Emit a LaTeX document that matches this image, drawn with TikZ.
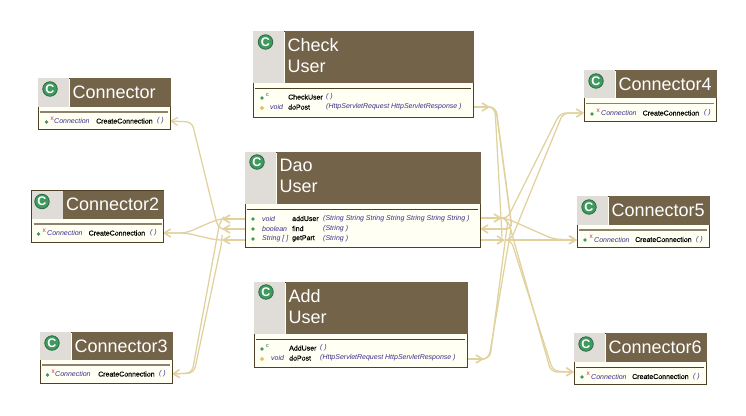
\documentclass[tikz,border=0pt]{standalone}
\usepackage{fontspec}
\setmainfont{Liberation Sans}
\newfontfamily\rownamefont[FakeBold=0.4]{Liberation Sans}
\usepackage{xcolor}
\usetikzlibrary{arrows.meta,shapes.geometric}
\definecolor{headbrown}{HTML}{736349}
\definecolor{boxedge}{HTML}{4F4124}
\definecolor{bodycream}{HTML}{FFFFF3}
\definecolor{cellgray}{HTML}{E0DDD9}
\definecolor{flowtan}{HTML}{E1D19C}
\definecolor{icongreen}{HTML}{3F9A5F}
\definecolor{typeblue}{HTML}{3A2F8C}
\definecolor{markred}{HTML}{C8304F}
\definecolor{markyellow}{HTML}{E8BE5A}
\definecolor{sepgray}{HTML}{8E826E}
\tikzset{
  classbox/.style={rectangle, draw=boxedge, fill=bodycream, line width=0.9pt, anchor=north west, inner sep=0pt, outer sep=0pt},
  connbox/.style={classbox, minimum width=132pt, minimum height=51.5pt},
  classcell/.style={rectangle, fill=cellgray, anchor=north west, inner sep=0pt, minimum width=31pt},
  classhead/.style={rectangle, fill=headbrown, anchor=north west, inner sep=0pt},
  classtitle/.style={text=white, anchor=west, align=left, inner sep=0pt, font=\fontsize{18}{21}\selectfont},
  classicon/.style={circle, draw=icongreen!70!black, line width=0.8pt, fill=icongreen, minimum size=14.5pt, inner sep=0pt, text=white, font=\bfseries\fontsize{12.5}{12.5}\selectfont},
  pubdot/.style={circle, fill=icongreen, minimum size=3.8pt, inner sep=0pt},
  protdot/.style={diamond, fill=markyellow, minimum size=4.6pt, inner sep=0pt},
  rowtype/.style={anchor=west, inner sep=0pt, text=typeblue, font=\itshape\fontsize{7}{8}\selectfont},
  rowname/.style={anchor=west, inner sep=0pt, text=black, font=\rownamefont\fontsize{7}{8}\selectfont},
  rowmark/.style={anchor=west, inner sep=0pt, text=markred, font=\fontsize{6.5}{6.5}\selectfont},
  ctormark/.style={anchor=west, inner sep=0pt, text=icongreen!60!black, font=\fontsize{5.5}{5.5}\selectfont},
  sepline/.style={draw=sepgray, line width=1.3pt},
  darksep/.style={draw=boxedge, line width=0.8pt},
  flow/.style={draw=flowtan, line width=1.25pt, rounded corners=6pt},
  flowhead/.style={flow, -{Straight Barb[length=6.5pt,width=8pt]}},
  flowtip/.style={flowhead, line width=1.6pt}
}
\begin{document}
\begin{tikzpicture}[x=1pt, y=-1pt]
\useasboundingbox (0,0) rectangle (746,415);

% connectors on the left
\coordinate (daoaddw) at (245,219);
\coordinate (daofindw) at (245,229);
\coordinate (daopartw) at (245,240);
\coordinate (addtipw) at (222,219);
\coordinate (findtipw) at (222,229);
\coordinate (parttipw) at (222,240);
\coordinate (connone) at (170,121);
\coordinate (conntwo) at (163,233);
\coordinate (connthree) at (172,374);
\draw[flowtip] (daoaddw) -- (addtipw);
\draw[flowtip] (daofindw) -- (findtipw);
\draw[flowtip] (daopartw) -- (parttipw);
\draw[flowhead] (findtipw) -- (218,228) -- (192,122) -- (connone);
\draw[flowhead] (addtipw) -- (216,220) -- (186,233) -- (conntwo);
\draw[flowhead] (parttipw) -- (216,240) -- (186,233) -- (conntwo);
\draw[flowhead] (addtipw) -- (220,221) -- (192,373) -- (connthree);
\draw[flowhead] (parttipw) -- (222,241) -- (194,373) -- (connthree);

% connectors on the right
\coordinate (checkpost) at (473,107);
\coordinate (checktip) at (490,107);
\coordinate (addpost) at (467,359);
\coordinate (addtip) at (484,359);
\coordinate (daoadde) at (480,218);
\coordinate (daofinde) at (480,229);
\coordinate (daoparte) at (480,240);
\coordinate (addtipe) at (502,218);
\coordinate (parttipe) at (505,240);
\coordinate (connfour) at (584,113);
\coordinate (connfive) at (577,240);
\coordinate (connsix) at (574,372);
\draw[flowtip] (checkpost) -- (checktip);
\draw[flowtip] (addpost) -- (addtip);
\draw[flowtip] (daoadde) -- (addtipe);
\draw[flowtip] (daoparte) -- (parttipe);
\draw[flow] (checktip) -- (495,108) -- (502,237);
\draw[flowtip] (checktip) -- (496,108) -- (512,229) -- (daofinde);
\draw[flow] (addtip) -- (489,358) -- (511,229);
\draw[flow] (addtip) -- (490,358) -- (508,219) -- (addtipe);
\draw[flowhead] (addtipe) -- (507,219) -- (560,113) -- (connfour);
\draw[flowhead] (parttipe) -- (511,240) -- (563,113) -- (connfour);
\draw[flowhead] (addtipe) -- (508,219) -- (553,239) -- (connfive);
\draw[flowtip] (parttipe) -- (connfive);
\draw[flowhead] (addtipe) -- (508,220) -- (551,372) -- (connsix);
\draw[flowhead] (parttipe) -- (511,240) -- (553,371) -- (connsix);

% check user
\node (check) [classbox, minimum width=220pt, minimum height=86pt] at (253,31) {};
\node (checkcell) [classcell, minimum height=52pt] at (check.north west) {};
\node (checkhead) [classhead, minimum width=189pt, minimum height=52pt] at (checkcell.north east) {};
\node (checktitle) [classtitle, yshift=2pt, xshift=3pt] at (checkhead.west) {Check\\User};
\node (checkicon) [classicon] at (265.5,42) {C};
\draw[darksep] (255,88) -- (471,88);
\node (checkdot1) [pubdot] at (262,98) {};
\node (checkmark1) [ctormark] at (266,95) {c};
\node (checkname1) [rowname] at (288,97) {CheckUser};
\node (checkargs1) [rowtype] at (326,97) {( )};
\node (checkdot2) [protdot] at (262,108) {};
\node (checktype2) [rowtype] at (270,107) {void};
\node (checkname2) [rowname] at (288,107) {doPost};
\node (checkargs2) [rowtype] at (326,107) {(HttpServletRequest HttpServletResponse )};

% dao user
\node (dao) [classbox, minimum width=235pt, minimum height=95pt] at (245,152) {};
\node (daocell) [classcell, minimum height=52pt] at (dao.north west) {};
\node (daohead) [classhead, minimum width=204pt, minimum height=52pt] at (daocell.north east) {};
\node (daotitle) [classtitle, yshift=2pt, xshift=3pt] at (daohead.west) {Dao\\User};
\node (daoicon) [classicon] at (257,162) {C};
\draw[darksep] (247,209) -- (478,209);
\node (daodot1) [pubdot] at (253,219) {};
\node (daotype1) [rowtype] at (262,218.5) {void};
\node (daoname1) [rowname] at (292,218.5) {addUser};
\node (daoargs1) [rowtype] at (323,218.5) {(String String String String String String String )};
\node (daodot2) [pubdot] at (253,229) {};
\node (daotype2) [rowtype] at (262,228.5) {boolean};
\node (daoname2) [rowname] at (292,228.5) {find};
\node (daoargs2) [rowtype] at (323,228.5) {(String )};
\node (daodot3) [pubdot] at (253,239) {};
\node (daotype3) [rowtype] at (262,238.5) {String [ ]};
\node (daoname3) [rowname] at (292,238.5) {getPart};
\node (daoargs3) [rowtype] at (323,238.5) {(String )};

% add user
\node (add) [classbox, minimum width=213pt, minimum height=85pt] at (254,282) {};
\node (addcell) [classcell, minimum height=52pt] at (add.north west) {};
\node (addhead) [classhead, minimum width=182pt, minimum height=52pt] at (addcell.north east) {};
\node (addtitle) [classtitle, yshift=2pt, xshift=3pt] at (addhead.west) {Add\\User};
\node (addicon) [classicon] at (266,292) {C};
\draw[darksep] (256,339) -- (465,339);
\node (adddot1) [pubdot] at (262,349) {};
\node (addmark1) [ctormark] at (266,346) {c};
\node (addname1) [rowname] at (289,348) {AddUser};
\node (addargs1) [rowtype] at (320,348) {( )};
\node (adddot2) [protdot] at (262,359) {};
\node (addtype2) [rowtype] at (271,358) {void};
\node (addname2) [rowname] at (289,358) {doPost};
\node (addargs2) [rowtype] at (320,358) {(HttpServletRequest HttpServletResponse )};

% connector
\node (cone) [connbox] at (38,78) {};
\node (conecell) [classcell, minimum height=29pt] at (cone.north west) {};
\node (conehead) [classhead, minimum width=101pt, minimum height=29pt] at (conecell.north east) {};
\node (conetitle) [classtitle, xshift=3pt] at (conehead.west) {Connector};
\node (coneicon) [classicon] at (50,89) {C};
\draw[sepline] (40,112) -- (168,112);
\node (conedot) [pubdot] at (46.5,122) {};
\node (conemark) [rowmark] at (50.5,119) {x};
\node (conetype) [rowtype] at (54,121) {Connection};
\node (conename) [rowname] at (96,121) {CreateConnection};
\node (coneargs) [rowtype] at (157,121) {( )};

% connector2
\node (ctwo) [connbox] at (31.5,190.5) {};
\node (ctwocell) [classcell, minimum height=28pt] at (ctwo.north west) {};
\node (ctwohead) [classhead, minimum width=101pt, minimum height=28pt] at (ctwocell.north east) {};
\node (ctwotitle) [classtitle, xshift=3pt] at (ctwohead.west) {Connector2};
\node (ctwoicon) [classicon] at (42,201.5) {C};
\draw[sepline] (33.5,224) -- (161.5,224);
\node (ctwodot) [pubdot] at (38.5,234) {};
\node (ctwomark) [rowmark] at (42.5,231) {x};
\node (ctwotype) [rowtype] at (47,233) {Connection};
\node (ctwoname) [rowname] at (88.5,233) {CreateConnection};
\node (ctwoargs) [rowtype] at (150,233) {( )};

% connector3
\node (cthree) [connbox] at (40,332) {};
\node (cthreecell) [classcell, minimum height=28pt] at (cthree.north west) {};
\node (cthreehead) [classhead, minimum width=101pt, minimum height=28pt] at (cthreecell.north east) {};
\node (cthreetitle) [classtitle, xshift=3pt] at (cthreehead.west) {Connector3};
\node (cthreeicon) [classicon] at (52,343) {C};
\draw[sepline] (42,365) -- (170,365);
\node (cthreedot) [pubdot] at (47.5,375) {};
\node (cthreemark) [rowmark] at (51.5,372) {x};
\node (cthreetype) [rowtype] at (55,374) {Connection};
\node (cthreename) [rowname] at (98,374) {CreateConnection};
\node (cthreeargs) [rowtype] at (159,374) {( )};

% connector4
\node (cfour) [connbox] at (584,70) {};
\node (cfourcell) [classcell, minimum height=28pt] at (cfour.north west) {};
\node (cfourhead) [classhead, minimum width=101pt, minimum height=28pt] at (cfourcell.north east) {};
\node (cfourtitle) [classtitle, xshift=3pt] at (cfourhead.west) {Connector4};
\node (cfouricon) [classicon] at (596,81) {C};
\draw[sepline] (586,103.5) -- (714,103.5);
\node (cfourdot) [pubdot] at (592,114) {};
\node (cfourmark) [rowmark] at (596.5,111) {x};
\node (cfourtype) [rowtype] at (601,113) {Connection};
\node (cfourname) [rowname] at (642.5,113) {CreateConnection};
\node (cfourargs) [rowtype] at (704,113) {( )};

% connector5
\node (cfive) [connbox] at (577,196) {};
\node (cfivecell) [classcell, minimum height=29pt] at (cfive.north west) {};
\node (cfivehead) [classhead, minimum width=101pt, minimum height=29pt] at (cfivecell.north east) {};
\node (cfivetitle) [classtitle, xshift=3pt] at (cfivehead.west) {Connector5};
\node (cfiveicon) [classicon] at (589,207) {C};
\draw[sepline] (579,230) -- (707,230);
\node (cfivedot) [pubdot] at (585,240) {};
\node (cfivemark) [rowmark] at (589.5,237) {x};
\node (cfivetype) [rowtype] at (594,239.5) {Connection};
\node (cfivename) [rowname] at (635,239.5) {CreateConnection};
\node (cfiveargs) [rowtype] at (696,239.5) {( )};

% connector6
\node (csix) [connbox] at (574,333) {};
\node (csixcell) [classcell, minimum height=29pt] at (csix.north west) {};
\node (csixhead) [classhead, minimum width=101pt, minimum height=29pt] at (csixcell.north east) {};
\node (csixtitle) [classtitle, xshift=3pt] at (csixhead.west) {Connector6};
\node (csixicon) [classicon] at (586,344) {C};
\draw[darksep] (576,367) -- (704,367);
\node (csixdot) [pubdot] at (582,377) {};
\node (csixmark) [rowmark] at (586.5,374) {x};
\node (csixtype) [rowtype] at (591,376.5) {Connection};
\node (csixname) [rowname] at (632,376.5) {CreateConnection};
\node (csixargs) [rowtype] at (693,376.5) {( )};
\end{tikzpicture}
\end{document}
